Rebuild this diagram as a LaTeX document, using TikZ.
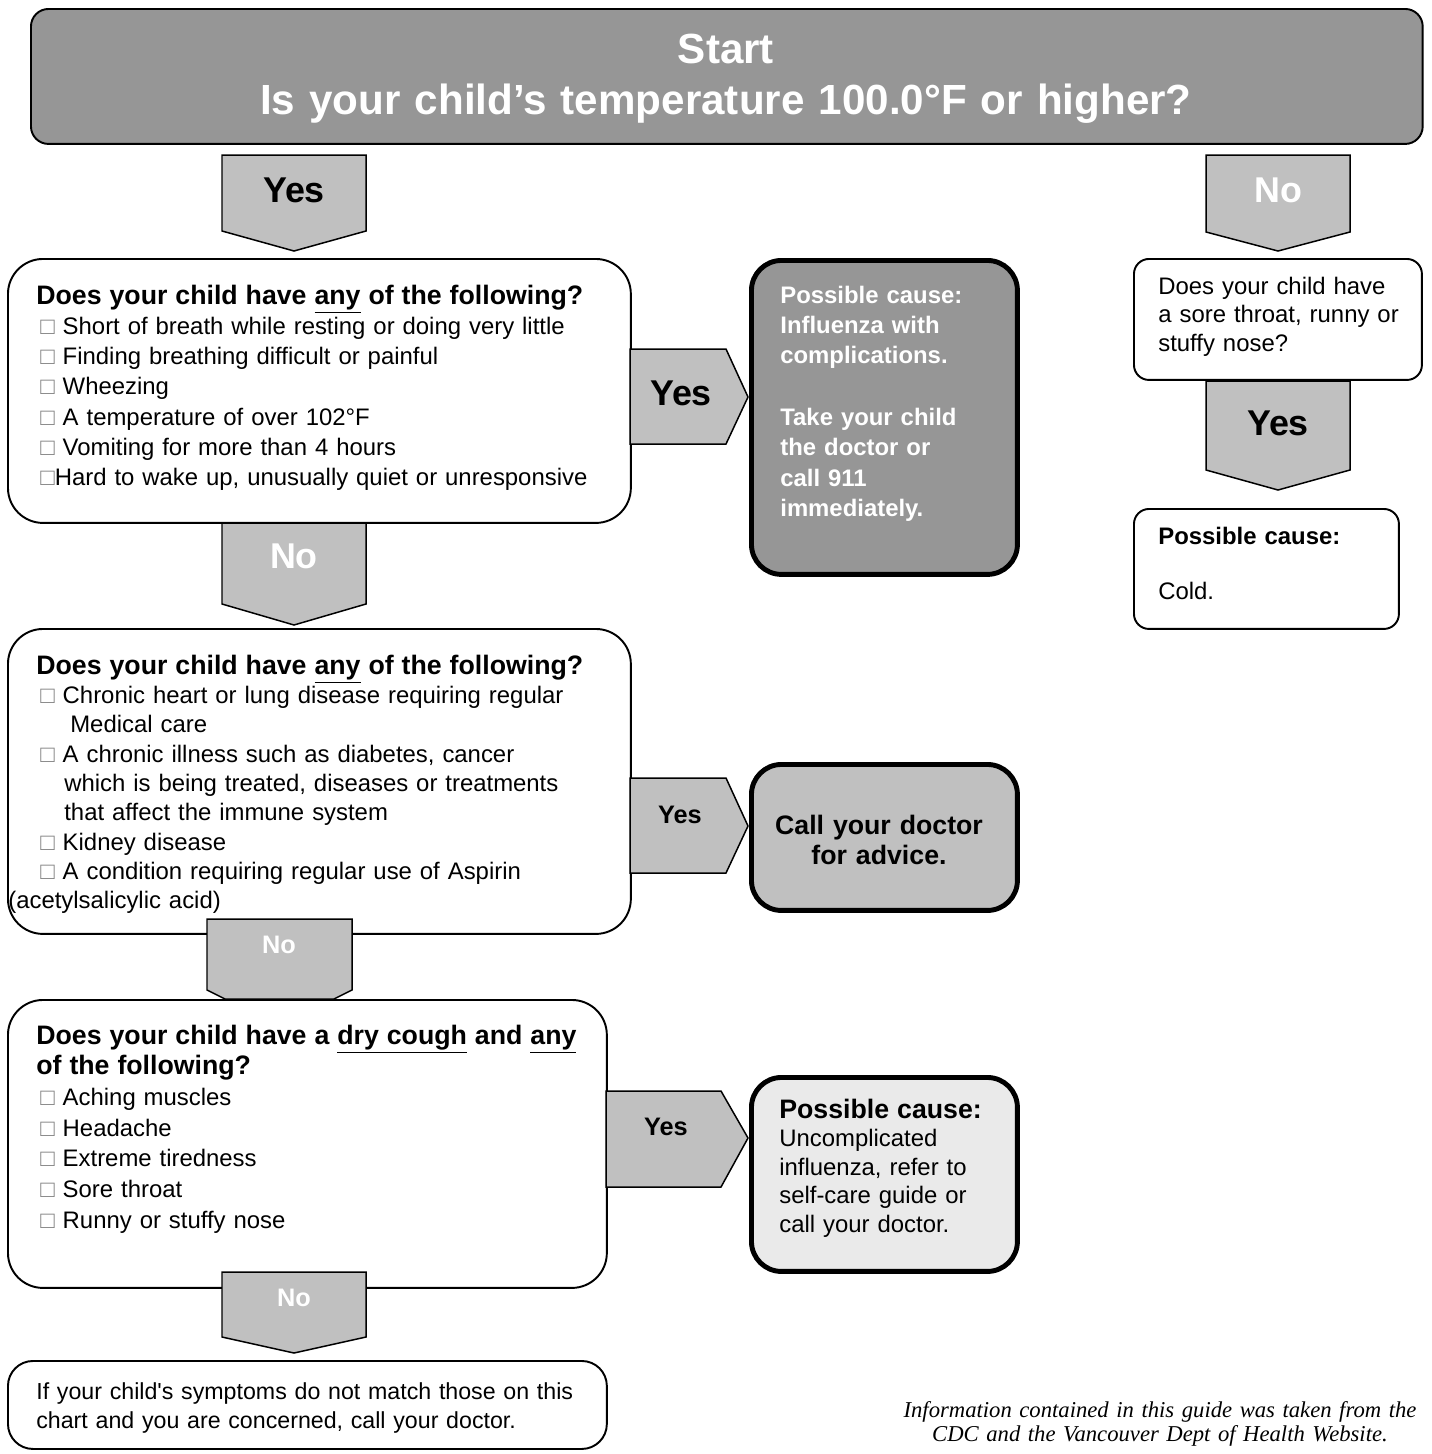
\documentclass[tikz,border=0pt]{standalone}
\usepackage{fontspec}
\setmainfont{Liberation Sans}
\newfontfamily\notefont{Liberation Serif}
\definecolor{darkfill}{RGB}{150,150,150}
\definecolor{midfill}{RGB}{192,192,192}
\definecolor{lightfill}{RGB}{234,234,234}
\newcommand{\tickbox}{\hspace*{0.08cm}{\color{gray}□}}
\newcommand{\headfont}{\bfseries\fontsize{15.2pt}{17.2pt}\selectfont}
\begin{document}
\begin{tikzpicture}[x=0.02cm,y=-0.02cm,
  box/.style={draw,line width=1.1pt,rounded corners=0.7cm,fill=white,anchor=north west,inner sep=0},
  heavy/.style={draw,line width=2.8pt,rounded corners=0.6cm,anchor=north west,inner sep=0},
  blockarrow/.style={draw,line width=0.85pt,fill=midfill,line join=miter},
  txt/.style={anchor=base west,inner sep=0,align=left,text width=11.8cm,font=\fontsize{13.6pt}{17.24pt}\selectfont},
  big/.style={inner sep=0,font=\bfseries\fontsize{20.4pt}{24pt}\selectfont},
  small/.style={inner sep=0,font=\bfseries\fontsize{14.4pt}{17pt}\selectfont}]
\useasboundingbox (0,0) rectangle (1432,1454);
\node[box,fill=darkfill,rounded corners=0.35cm,minimum width=27.84cm,minimum height=2.7cm] (start) at (30,8) {};
\node[anchor=base,inner sep=0,text width=27cm,align=center,text=white,font=\bfseries\fontsize{24pt}{29.5pt}\selectfont] (starttext) at (726,63) {Start\\Is your child’s temperature 100.0°F or higher?};
\draw[blockarrow] (222,155) -- (366,155) -- (366,231) -- (294,251) -- (222,231) -- cycle;
\node[big] (yes1) at (294,190) {Yes};
\draw[blockarrow] (1206,155) -- (1350,155) -- (1350,232) -- (1278,251) -- (1206,232) -- cycle;
\node[big,text=white] (no1) at (1278,190) {No};
% first question
\node[box,minimum width=12.46cm,minimum height=5.28cm] (q1) at (7,258) {};
\node[txt] (q1text) at (36,304) {{\headfont Does your child have \underline{any} of the following?}\\
\tickbox\ Short of breath while resting or doing very little\\
\tickbox\ Finding breathing difficult or painful\\
\tickbox\ Wheezing\\
\tickbox\ A temperature of over 102°F\\
\tickbox\ Vomiting for more than 4 hours\\
\tickbox Hard to wake up, unusually quiet or unresponsive};
\draw[blockarrow] (630,349) -- (726,349) -- (748,397) -- (726,444) -- (630,444) -- cycle;
\node[big] (yes2) at (681,393) {Yes};
\node[heavy,fill=darkfill,minimum width=5.32cm,minimum height=6.28cm] (p1) at (749,258) {};
\node[txt,text=white,text width=4.6cm,font=\bfseries\fontsize{13.6pt}{17.35pt}\selectfont] (p1text) at (780,303) {Possible cause:\\Influenza with\\complications.\\[0.612cm]Take your child\\the doctor or\\call 911\\immediately.};
\draw[blockarrow] (222,523) -- (366,523) -- (366,604) -- (294,625) -- (222,604) -- cycle;
\node[big,text=white] (no2) at (294,556) {No};
% second question
\node[box,minimum width=12.46cm,minimum height=6.1cm] (q2) at (7,628) {};
\node[txt,font=\fontsize{13.6pt}{16.7pt}\selectfont] (q2text) at (36,674) {{\headfont Does your child have \underline{any} of the following?}\\
\tickbox\ Chronic heart or lung disease requiring regular\\
\hspace*{0.68cm}Medical care\\
\tickbox\ A chronic illness such as diabetes, cancer\\
\hspace*{0.56cm}which is being treated, diseases or treatments\\
\hspace*{0.56cm}that affect the immune system\\
\tickbox\ Kidney disease\\
\tickbox\ A condition requiring regular use of Aspirin\\
\hspace*{-0.56cm}(acetylsalicylic acid)};
\draw[blockarrow] (630,778) -- (726,778) -- (748,826) -- (726,873) -- (630,873) -- cycle;
\node[small] (yes3) at (680,815) {Yes};
\node[heavy,fill=midfill,minimum width=5.32cm,minimum height=2.92cm] (p2) at (749,762) {};
\node[txt,anchor=base,align=center,text width=5cm,font=\bfseries\fontsize{15.2pt}{17.6pt}\selectfont] (p2text) at (879,834) {Call your doctor\\for advice.};
\draw[blockarrow] (207,919) -- (352,919) -- (352,990) -- (334,999) -- (225,999) -- (207,990) -- cycle;
\node[small,text=white] (no3) at (279,945) {No};
% third question
\node[box,minimum width=11.98cm,minimum height=5.76cm] (q3) at (7,999) {};
\node[txt,font=\fontsize{13.6pt}{17.5pt}\selectfont] (q3text) at (36,1044) {{\headfont Does your child have a \underline{dry cough} and \underline{any}}\\
{\headfont of the following?}\\
\tickbox\ Aching muscles\\
\tickbox\ Headache\\
\tickbox\ Extreme tiredness\\
\tickbox\ Sore throat\\
\tickbox\ Runny or stuffy nose};
\draw[blockarrow] (606,1091) -- (721,1091) -- (748,1138) -- (721,1187) -- (606,1187) -- cycle;
\node[small] (yes4) at (666,1127) {Yes};
\node[heavy,fill=lightfill,minimum width=5.32cm,minimum height=3.88cm] (p3) at (749,1075) {};
\node[txt,text width=4.8cm,font=\fontsize{13.6pt}{16.3pt}\selectfont] (p3text) at (779,1118) {{\headfont Possible cause:}\\Uncomplicated\\influenza, refer to\\self-care guide or\\call your doctor.};
\draw[blockarrow] (222,1272) -- (366,1272) -- (366,1337) -- (294,1353) -- (222,1337) -- cycle;
\node[small,text=white] (no4) at (294,1298) {No};
\node[box,rounded corners=0.5cm,minimum width=11.98cm,minimum height=1.76cm] (q4) at (7,1360) {};
\node[txt,font=\fontsize{13.2pt}{17pt}\selectfont] (q4text) at (36,1399) {If your child\textquotesingle s symptoms do not match those on this\\chart and you are concerned, call your doctor.};
% right column
\node[box,rounded corners=0.3cm,minimum width=5.76cm,minimum height=2.42cm] (r1) at (1133,258) {};
\node[txt,text width=5.4cm,font=\fontsize{13.6pt}{16.4pt}\selectfont] (r1text) at (1158,294) {Does your child have\\a sore throat, runny or\\stuffy nose?};
\draw[blockarrow] (1206,381) -- (1350,381) -- (1350,470) -- (1278,490) -- (1206,470) -- cycle;
\node[big] (yes5) at (1278,423) {Yes};
\node[box,rounded corners=0.3cm,minimum width=5.3cm,minimum height=2.4cm] (r2) at (1133,508) {};
\node[txt,text width=4.8cm,font=\fontsize{13.6pt}{15.9pt}\selectfont] (r2text) at (1158,544) {\textbf{Possible cause:}\\[0.56cm]Cold.};
\node[anchor=base,inner sep=0,text width=12cm,align=center,font=\notefont\itshape\fontsize{12.9pt}{14.2pt}\selectfont] (source) at (1160,1417) {Information contained in this guide was taken from the\\CDC and the Vancouver Dept of Health Website.};
\end{tikzpicture}
\end{document}
